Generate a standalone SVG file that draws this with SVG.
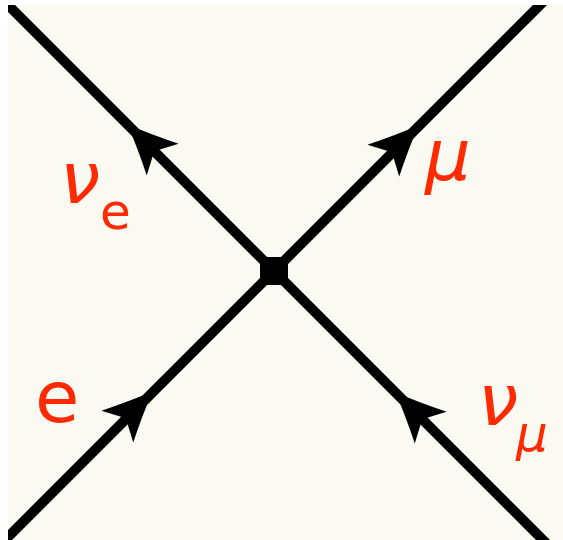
<svg xmlns="http://www.w3.org/2000/svg" xmlns:xlink="http://www.w3.org/1999/xlink" width="563" height="540" viewBox="0 0 563 540">
  <style>
    .line { stroke: #000; stroke-width: 10; fill: none; }
    .lbl { fill: #ff2a00; font-family: "DejaVu Sans", "Liberation Sans", sans-serif; }
    .big { font-size: 72px; }
    .sub { font-size: 50px; }
    .it { font-style: oblique; }
  </style>
  <defs>
    <path id="arr" d="M25,0 Q2,-9 -25,-22.5 L-13,0 L-25,22.5 Q2,9 25,0 Z" fill="#000"/>
    <clipPath id="panel"><rect x="8" y="5" width="555" height="535"/></clipPath>
  </defs>
  <rect x="0" y="0" width="563" height="540" fill="#ffffff"/>
  <rect x="8" y="5" width="555" height="535" fill="#fafaf2"/>
  <g id="connectors" clip-path="url(#panel)">
    <line class="line" x1="274" y1="271" x2="0" y2="-3"/>
    <line class="line" x1="274" y1="271" x2="548" y2="-3"/>
    <line class="line" x1="274" y1="271" x2="0" y2="545"/>
    <line class="line" x1="274" y1="271" x2="548" y2="545"/>
    <use xlink:href="#arr" transform="translate(145,142) rotate(-135)"/>
    <use xlink:href="#arr" transform="translate(401,143) rotate(-45)"/>
    <use xlink:href="#arr" transform="translate(135,409) rotate(-45)"/>
    <use xlink:href="#arr" transform="translate(413,410) rotate(-135)"/>
  </g>
  <g id="vertex">
    <rect x="260" y="257" width="28" height="28" fill="#000"/>
  </g>
  <g id="label-nue">
    <text class="lbl big it" x="60" y="203">ν</text>
    <text class="lbl sub" x="100" y="229">e</text>
  </g>
  <g id="label-mu">
    <text class="lbl big it" x="425" y="180">μ</text>
  </g>
  <g id="label-e">
    <text class="lbl big" x="35" y="422">e</text>
  </g>
  <g id="label-numu">
    <text class="lbl big it" x="478" y="425">ν</text>
    <text class="lbl sub it" x="516" y="451">μ</text>
  </g>
</svg>
